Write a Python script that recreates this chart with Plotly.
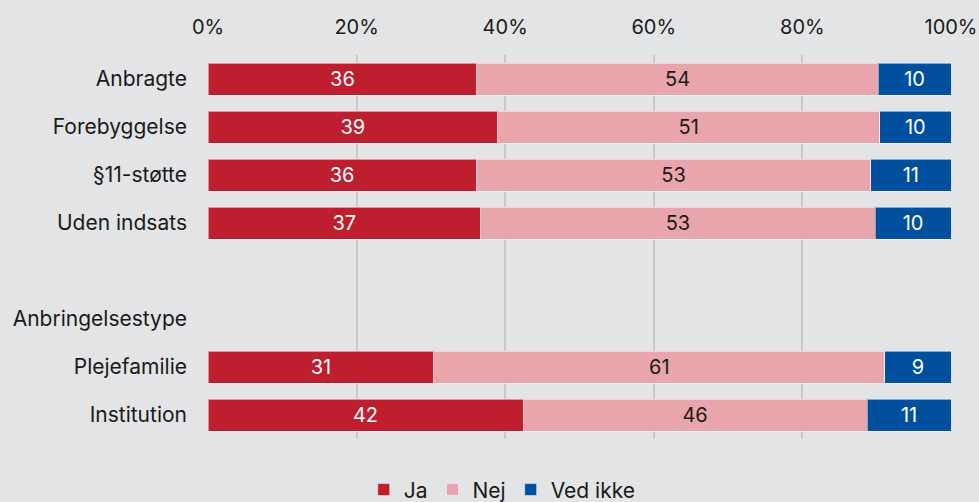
import plotly.graph_objects as go

categories = ["Anbragte", "Forebyggelse", "§11-støtte", "Uden indsats", " ",
              "Anbringelsestype", "Plejefamilie", "Institution"]
ja = [36.2, 39.0, 36.1, 36.7, None, None, 30.4, 42.4]
nej = [54.0, 51.4, 53.1, 53.1, None, None, 60.7, 46.3]
ved_ikke = [9.8, 9.6, 10.8, 10.2, None, None, 8.9, 11.3]
ja_txt = ["36", "39", "36", "37", "", "", "31", "42"]
nej_txt = ["54", "51", "53", "53", "", "", "61", "46"]
ved_txt = ["10", "10", "11", "10", "", "", "9", "11"]

series = [
    ("Ja", ja, ja_txt, "#be1e2d", "white"),
    ("Nej", nej, nej_txt, "#e8a5ab", "#1a1a1a"),
    ("Ved ikke", ved_ikke, ved_txt, "#00509e", "white"),
]

fig = go.Figure()
for name, vals, txt, color, tcolor in series:
    fig.add_trace(go.Bar(
        y=categories,
        x=vals,
        name=name,
        orientation="h",
        marker=dict(color=color, line=dict(color="rgba(255,255,255,0.5)", width=1)),
        text=txt,
        textposition="inside",
        insidetextanchor="middle",
        textfont=dict(color=tcolor, size=20, family="Inter"),
        hoverinfo="skip",
    ))

fig.update_layout(
    barmode="stack",
    bargap=1 / 3,
    width=979,
    height=502,
    paper_bgcolor="#e3e4e6",
    plot_bgcolor="#e3e4e6",
    font=dict(family="Inter", size=21, color="#1a1a1a"),
    margin=dict(l=208, r=28, t=55, b=63),
    uniformtext=dict(mode="show", minsize=20),
    xaxis=dict(
        side="top",
        range=[0, 100],
        tickvals=[0, 20, 40, 60, 80, 100],
        ticktext=["0%", "20%", "40%", "60%", "80%", "100%"],
        tickfont=dict(size=20),
        showgrid=True,
        gridcolor="#c8c8c8",
        gridwidth=1.5,
        zeroline=False,
        ticks="",
        ticklabelstandoff=16,
        automargin=False,
        fixedrange=True,
    ),
    yaxis=dict(
        categoryorder="array",
        categoryarray=categories,
        autorange="reversed",
        ticks="",
        ticklabelstandoff=20,
        showgrid=False,
        automargin=False,
    ),
    legend=dict(
        orientation="h",
        x=0.513,
        xref="container",
        xanchor="center",
        y=0.024,
        yref="container",
        yanchor="middle",
        font=dict(size=21),
        itemwidth=30,
        traceorder="normal",
    ),
)

fig.write_html(
    "out.html",
    config=dict(displayModeBar=False),
    post_script="document.body.style.margin='0';document.body.style.background='#e3e4e6';",
)
